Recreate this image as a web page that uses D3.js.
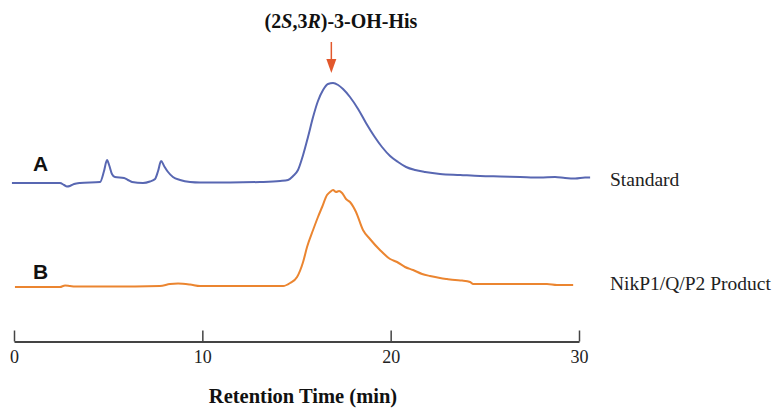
<!DOCTYPE html>
<html>
<head>
<meta charset="utf-8">
<script src="https://cdn.jsdelivr.net/npm/d3@7"></script>
<style>
  body { margin: 0; background: #fff; }
</style>
</head>
<body>
<div id="chart"></div>
<script>
// chart size
const width = 780;
const height = 408;

// trace A: standard, [retention time (min), signal]
const standardTimes = [-0.11, 1.38, 2.44, 2.66, 2.81, 2.97, 3.19, 3.5, 4.57, 4.78, 4.94, 5.05, 5.2, 5.36, 5.84, 6.05, 6.27, 6.85, 7.22, 7.49, 7.65, 7.81, 7.97, 8.18, 8.44, 8.82, 9.35, 9.88, 11.47, 13.06, 14.13, 14.55, 14.82, 15.08, 15.35, 15.61, 15.88, 16.14, 16.41, 16.67, 16.94, 17.21, 17.47, 17.84, 18.27, 18.69, 19.12, 19.54, 19.97, 20.39, 20.82, 21.3, 21.83, 22.62, 23.69, 24.75, 25.81, 26.87, 27.93, 28.73, 29.26, 29.8, 30.32, 30.59];
const standardValues = [0, 0, 0, -2, -3.5, -3, -1, 0, 1, 12, 23, 18, 9, 6, 5, 3, 1, 0, 1.5, 4, 12, 22, 17, 11, 6, 3, 1, 0.5, 0.5, 1, 2, 3, 7, 13, 28, 46, 66, 82, 93, 99, 100, 98, 94, 86, 74, 60, 47, 36, 27, 21, 16, 13, 11, 9, 8, 7, 6.5, 6, 5.5, 6, 5, 4.5, 5.5, 5.5];

// trace B: NikP1/Q/P2 product
const productTimes = [0.05, 2.44, 2.71, 2.97, 3.24, 5.1, 7.75, 8.28, 8.71, 9.35, 9.88, 11.47, 14.29, 14.66, 15.03, 15.35, 15.56, 15.88, 16.14, 16.36, 16.62, 16.78, 16.94, 17.1, 17.26, 17.42, 17.63, 17.84, 18.16, 18.53, 18.9, 19.43, 19.97, 20.34, 20.76, 21.19, 21.67, 22.09, 22.62, 22.99, 23.42, 23.79, 24.22, 24.38, 25.81, 28.3, 28.83, 29.69];
const productValues = [0, 0, 1.5, 1, 0.5, 0.5, 1, 3, 3.5, 2.5, 1, 1, 1, 4, 10, 25, 40, 57, 70, 80, 92, 95, 97, 95, 96, 94, 88, 85, 75, 57, 48, 37, 28, 25, 20, 17, 13, 11, 9, 8, 7, 6.5, 5, 3, 3, 3, 2, 2];

const traceNames = ["Standard", "NikP1/Q/P2 Product"];
const traceLetters = ["A", "B"];
const xTicks = [0, 10, 20, 30];
const peakTime = 16.85;

const traces = [
  { letter: traceLetters[0], name: traceNames[0], color: "#5867b2", base: 183,
    points: standardTimes.map((t, i) => [t, standardValues[i]]) },
  { letter: traceLetters[1], name: traceNames[1], color: "#eb8530", base: 287,
    points: productTimes.map((t, i) => [t, productValues[i]]) }
];

const svg = d3.select("#chart")
  .append("svg")
  .attr("width", width)
  .attr("height", height);

// scales
const xScale = d3.scaleLinear()
  .domain([0, 30])
  .range([14, 579]);

// signal -> pixel offset from each trace's baseline
const yScale = d3.scaleLinear()
  .domain([0, 100])
  .range([0, -100]);

const line = d3.line()
  .curve(d3.curveMonotoneX)
  .x(d => xScale(d[0]))
  .y(d => yScale(d[1]));

// traces
const groups = svg.selectAll(".trace")
  .data(traces)
  .enter()
  .append("g")
  .attr("class", "trace")
  .attr("transform", d => `translate(0, ${d.base})`);

groups.append("path")
  .attr("d", d => line(d.points))
  .attr("fill", "none")
  .attr("stroke", d => d.color)
  .attr("stroke-width", 2)
  .attr("stroke-linejoin", "round");

// A / B letters
groups.append("text")
  .attr("x", 33)
  .attr("y", (d, i) => i === 0 ? -12 : -8)
  .style("font-family", "Liberation Sans, Arial, sans-serif")
  .style("font-weight", "bold")
  .style("font-size", "21px")
  .attr("fill", "#111")
  .text(d => d.letter);

// right-hand names
groups.append("text")
  .attr("x", 610)
  .attr("y", 3)
  .style("font-family", "Liberation Serif, Times New Roman, serif")
  .style("font-size", "19.5px")
  .attr("fill", "#222")
  .text(d => d.name);

// x axis, ticks pointing up
const xAxis = svg.append("g")
  .attr("transform", "translate(0, 341.5)")
  .call(d3.axisBottom(xScale).tickValues(xTicks).tickSizeInner(-11).tickSizeOuter(0).tickPadding(9));

xAxis.select(".domain").attr("stroke", "#444").attr("stroke-width", 2);
xAxis.selectAll(".tick line").attr("stroke", "#444").attr("stroke-width", 1.5);
xAxis.selectAll(".tick text")
  .style("font-family", "Liberation Serif, Times New Roman, serif")
  .style("font-size", "18px")
  .attr("fill", "#222");

// x label
svg.append("text")
  .attr("x", 303)
  .attr("y", 403)
  .attr("text-anchor", "middle")
  .style("font-family", "Liberation Serif, Times New Roman, serif")
  .style("font-weight", "bold")
  .style("font-size", "20.5px")
  .attr("fill", "#111")
  .text("Retention Time (min)");

// title with italic S and R
const title = svg.append("text")
  .attr("x", 341)
  .attr("y", 28)
  .attr("text-anchor", "middle")
  .style("font-family", "Liberation Serif, Times New Roman, serif")
  .style("font-weight", "bold")
  .style("font-size", "20px")
  .attr("fill", "#111");
title.append("tspan").text("(2");
title.append("tspan").style("font-style", "italic").text("S");
title.append("tspan").text(",3");
title.append("tspan").style("font-style", "italic").text("R");
title.append("tspan").text(")-3-OH-His");

// arrow pointing to the peak
const ax = xScale(peakTime);
svg.append("line")
  .attr("x1", ax).attr("x2", ax)
  .attr("y1", 42).attr("y2", 62)
  .attr("stroke", "#e2582c")
  .attr("stroke-width", 1.5);
svg.append("path")
  .attr("d", `M${ax - 5},59 L${ax + 5},59 L${ax},73 Z`)
  .attr("fill", "#e2582c");
</script>
</body>
</html>
